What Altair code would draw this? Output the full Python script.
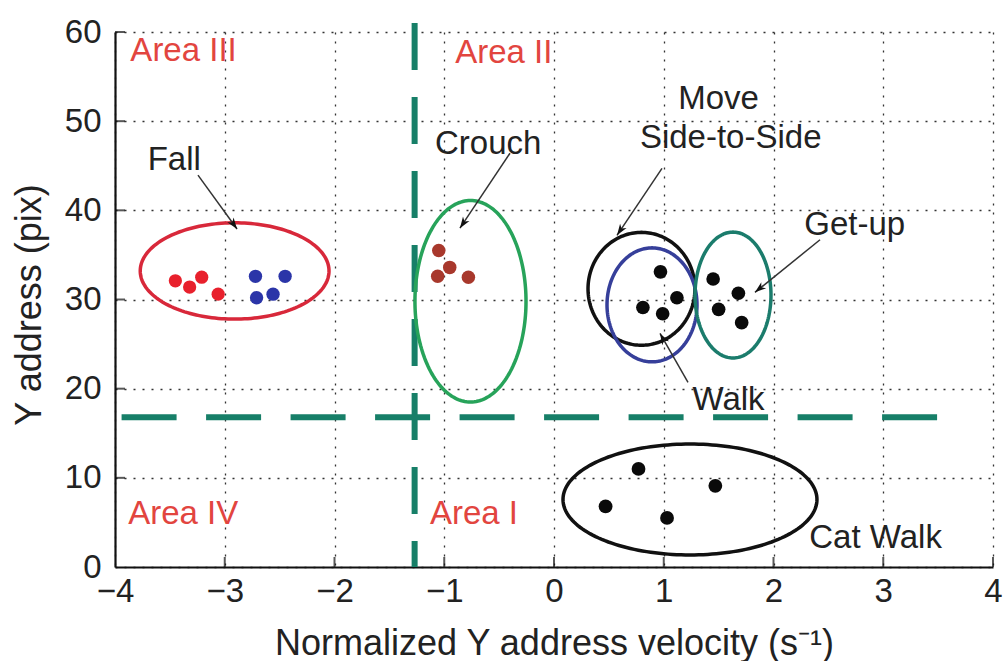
import altair as alt
import pandas as pd
import numpy as np

# ---------------- data ----------------
x_ticks = [-4, -3, -2, -1, 0, 1, 2, 3, 4]
y_ticks = [0, 10, 20, 30, 40, 50, 60]

fall_red_x = [-3.45, -3.32, -3.21, -3.06]
fall_red_y = [32.1, 31.4, 32.5, 30.6]
fall_blue_x = [-2.72, -2.45, -2.71, -2.56]
fall_blue_y = [32.6, 32.6, 30.2, 30.6]
crouch_x = [-1.05, -0.95, -1.06, -0.78]
crouch_y = [35.5, 33.6, 32.6, 32.5]
walk_x = [0.97, 1.12, 0.81, 0.99]
walk_y = [33.1, 30.2, 29.1, 28.4]
getup_x = [1.45, 1.68, 1.50, 1.71]
getup_y = [32.3, 30.7, 28.9, 27.4]
cat_x = [0.77, 1.47, 0.47, 1.03]
cat_y = [11.0, 9.1, 6.8, 5.5]

ell_names = ["Fall", "Crouch", "Move", "Walk", "Getup", "Cat"]
ell_cx = [-2.91, -0.761, 0.797, 0.893, 1.631, 1.239]
ell_cy = [33.2, 29.8, 31.2, 29.4, 30.5, 7.57]
ell_a = [0.86, 0.506, 0.487, 0.41, 0.346, 1.157]
ell_b = [5.4, 11.3, 6.33, 6.39, 7.06, 6.22]
ell_colors = ["#d8283a", "#27a35a", "#111111", "#363f9a", "#1b7c6c", "#111111"]

vline_x = -1.27
hline_y = 16.8

area_labels = ["Area III", "Area II", "Area IV", "Area I"]
area_x = [-3.86, -0.90, -3.88, -1.13]
area_y = [57.9, 57.7, 6.0, 6.0]

ann_labels = ["Fall", "Crouch", "Move", "Side-to-Side", "Get-up", "Walk", "Cat Walk"]
ann_x = [-3.46, -0.60, 1.50, 1.61, 2.74, 1.59, 2.93]
ann_y = [45.6, 47.4, 52.5, 48.1, 38.4, 18.7, 3.3]

arrow_x0 = [-3.244, -0.401, 0.984, 2.424, 1.221]
arrow_y0 = [43.95, 46.4, 44.7, 36.7, 20.7]
arrow_x1 = [-2.888, -0.857, 0.574, 1.831, 0.966]
arrow_y1 = [37.9, 38.0, 37.2, 30.8, 26.2]

# ---------------- layout ----------------
W, H = 878, 535
XD, YD = [-4, 4], [0, 60]
FONT = "Liberation Sans"

xs = alt.Scale(domain=XD, nice=False, zero=False)
ys = alt.Scale(domain=YD, nice=False, zero=False)

# points table
pts = []
for xs_, ys_, g in [(fall_red_x, fall_red_y, "red"), (fall_blue_x, fall_blue_y, "blue"),
                    (crouch_x, crouch_y, "brown"), (walk_x, walk_y, "black"),
                    (getup_x, getup_y, "black"), (cat_x, cat_y, "blackbig")]:
    for a, b in zip(xs_, ys_):
        pts.append({"x": a, "y": b, "g": g})
pts = pd.DataFrame(pts)

# ellipse outlines
t = np.linspace(0, 2 * np.pi, 181)
rows = []
for n, cx, cy, a, b in zip(ell_names, ell_cx, ell_cy, ell_a, ell_b):
    for i, tt in enumerate(t):
        rows.append({"name": n, "i": i, "x": cx + a * np.cos(tt), "y": cy + b * np.sin(tt)})
ell = pd.DataFrame(rows)

# arrows
px_x = W / (XD[1] - XD[0])
px_y = H / (YD[1] - YD[0])
arr = pd.DataFrame({"x0": arrow_x0, "y0": arrow_y0, "x1": arrow_x1, "y1": arrow_y1})
arr["angle"] = [
    float(np.degrees(np.arctan2((x1 - x0) * px_x, (y1 - y0) * px_y)) % 360)
    for x0, y0, x1, y1 in zip(arrow_x0, arrow_y0, arrow_x1, arrow_y1)
]

x_axis = alt.Axis(values=x_ticks, format="~g", title="Normalized Y address velocity (s⁻¹)",
                  grid=True, gridDash=[2, 7], gridColor="#333", gridWidth=1.3,
                  domainColor="#111", domainWidth=2.2, ticks=False,
                  labelFont=FONT, labelFontSize=33, labelColor="#222", labelPadding=8,
                  labelFlush=False, labelOverlap=False,
                  titleFont=FONT, titleFontSize=36, titleFontWeight="normal", titleColor="#222",
                  titleX=W / 2, titleY=76, titleBaseline="middle", titleAlign="center")
y_axis = alt.Axis(values=y_ticks, format="~g", title="Y address (pix)",
                  grid=True, gridDash=[2, 7], gridColor="#333", gridWidth=1.3,
                  domainColor="#111", domainWidth=2.2, ticks=False,
                  labelFont=FONT, labelFontSize=33, labelColor="#222", labelPadding=14,
                  labelFlush=False, labelOverlap=False,
                  titleFont=FONT, titleFontSize=36, titleFontWeight="normal", titleColor="#222",
                  titleX=-86, titleY=H / 2 + 5, titleBaseline="middle", titleAlign="center",
                  titleAngle=270)

pt_domain = ["red", "blue", "brown", "black", "blackbig"]
base_pts = alt.Chart(pts).mark_circle(opacity=1).encode(
    x=alt.X("x:Q", scale=xs, axis=x_axis),
    y=alt.Y("y:Q", scale=ys, axis=y_axis),
    color=alt.Color("g:N", scale=alt.Scale(domain=pt_domain,
                                            range=["#e8202c", "#2b35a8", "#a8382c", "#0a0a0a", "#0a0a0a"]),
                    legend=None),
    size=alt.Size("g:N", scale=alt.Scale(domain=pt_domain, range=[175, 190, 175, 215, 290]), legend=None),
)

ell_layer = alt.Chart(ell).mark_line(strokeWidth=3.5).encode(
    x=alt.X("x:Q", scale=xs), y=alt.Y("y:Q", scale=ys),
    detail="name:N", order="i:Q",
    stroke=alt.Stroke("name:N", scale=alt.Scale(domain=ell_names, range=ell_colors), legend=None),
)

vdf = pd.DataFrame({"x": [vline_x], "ytop": [61.0], "ybot": [0.0]})
vline = alt.Chart(vdf).mark_rule(color="#177f68", strokeWidth=6, strokeDash=[47, 27]).encode(
    x=alt.X("x:Q", scale=xs), y=alt.Y("ytop:Q", scale=ys), y2="ybot:Q")
hdf = pd.DataFrame({"y": [hline_y], "xl": [-3.94], "xr": [3.52]})
hline = alt.Chart(hdf).mark_rule(color="#177f68", strokeWidth=6, strokeDash=[55, 29.5]).encode(
    y=alt.Y("y:Q", scale=ys), x=alt.X("xl:Q", scale=xs), x2="xr:Q")

# inward ticks
xt = pd.DataFrame({"x": [v for v in x_ticks if v != -4], "y": [0] * 8})
xtick = alt.Chart(xt).mark_tick(orient="vertical", size=10, thickness=2, yOffset=-5, color="#111").encode(
    x=alt.X("x:Q", scale=xs), y=alt.Y("y:Q", scale=ys))
yt = pd.DataFrame({"y": [v for v in y_ticks if v != 0], "x": [-4] * 6})
ytick = alt.Chart(yt).mark_tick(orient="horizontal", size=10, thickness=2, xOffset=5, color="#111").encode(
    x=alt.X("x:Q", scale=xs), y=alt.Y("y:Q", scale=ys))

shafts = alt.Chart(arr).mark_rule(color="#333", strokeWidth=1.5).encode(
    x=alt.X("x0:Q", scale=xs), y=alt.Y("y0:Q", scale=ys), x2="x1:Q", y2="y1:Q")
heads = alt.Chart(arr).mark_point(
    shape="M0,0 L0.55,1.6 L0,1.15 L-0.55,1.6 Z", filled=True, size=200,
    color="#111", opacity=1).encode(
    x=alt.X("x1:Q", scale=xs), y=alt.Y("y1:Q", scale=ys), angle=alt.Angle("angle:Q", scale=None))

area_df = pd.DataFrame({"t": area_labels, "x": area_x, "y": area_y})
area_txt = alt.Chart(area_df).mark_text(font=FONT, fontSize=33, color="#e2453f", align="left",
                                        baseline="middle").encode(
    x=alt.X("x:Q", scale=xs), y=alt.Y("y:Q", scale=ys), text="t:N")

ann_df = pd.DataFrame({"t": ann_labels, "x": ann_x, "y": ann_y})
ann_txt = alt.Chart(ann_df).mark_text(font=FONT, fontSize=33, color="#222", align="center",
                                      baseline="middle").encode(
    x=alt.X("x:Q", scale=xs), y=alt.Y("y:Q", scale=ys), text="t:N")

chart = alt.layer(base_pts, vline, hline, ell_layer, xtick, ytick, shafts, heads, area_txt, ann_txt).resolve_scale(
    color="independent", size="independent", stroke="independent"
).properties(
    width=W, height=H,
    autosize=alt.AutoSizeParams(type="none"),
    padding={"left": 115, "top": 32, "right": 13, "bottom": 94},
    background="white",
).configure_view(stroke=None)

chart.save("out.html", embed_options={"renderer": "svg", "actions": False})
